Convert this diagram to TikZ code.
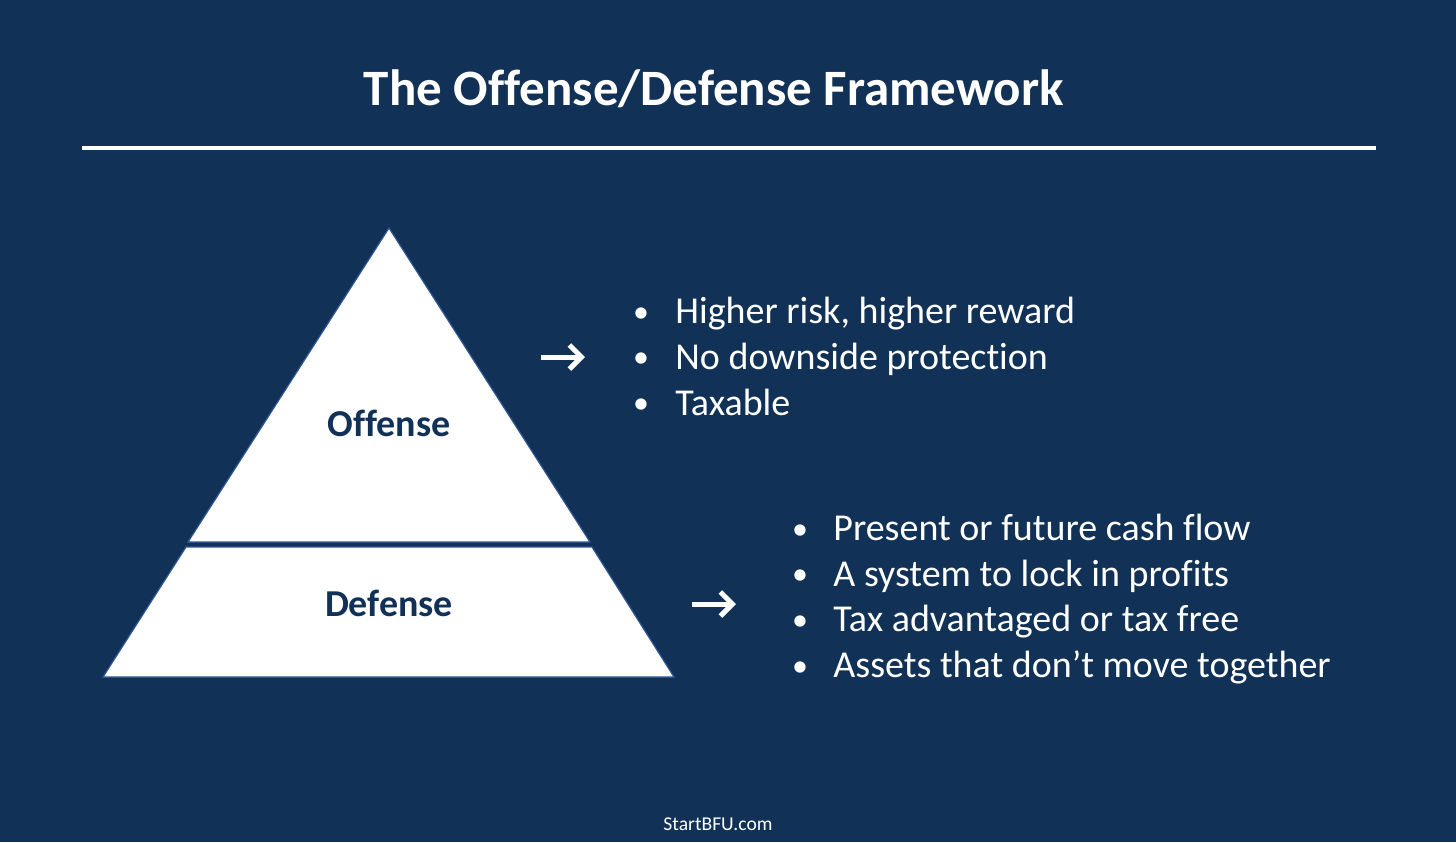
\documentclass[tikz,border=0pt]{standalone}
\usepackage{fontspec}
\setmainfont{Carlito}[Ligatures=NoCommon]
\usetikzlibrary{arrows.meta}
\definecolor{navy}{RGB}{17,50,86}
\definecolor{edgeblue}{RGB}{47,85,151}
\tikzset{
  tier/.style={fill=white, draw=edgeblue, line width=0.6pt},
  tierlabel/.style={anchor=base, text=navy, font=\bfseries\fontsize{19}{23}\selectfont},
  bullettext/.style={anchor=base west, inner sep=0pt, text=white, font=\fontsize{19}{23}\selectfont},
  bulletdot/.style={anchor=base, inner sep=0pt, text=white, font=\fontsize{16}{19}\selectfont},
  pointer/.style={->, white, line width=2.5pt}
}
\begin{document}
\begin{tikzpicture}[x=0.5pt, y=-0.5pt, >={Straight Barb[length=6pt,width=12pt]}]
    \fill[navy] (0,0) rectangle (1456,842);
    \useasboundingbox (0,0) rectangle (1456,842);

    % heading and rule
    \node[anchor=base, text=white, font=\bfseries\fontsize{25.5}{30}\selectfont]
        (title) at (714,105) {The Offense/Defense Framework};
    \draw[white, line width=2pt] (82,148) -- (1376,148);

    % pyramid
    \filldraw[tier] (389,228) -- (590,542) -- (188,542) -- cycle;
    \filldraw[tier] (186,547) -- (592,547) -- (674,677) -- (103,677) -- cycle;
    \node[tierlabel] (offense) at (389,436) {Offense};
    \node[tierlabel] (defense) at (389,616) {Defense};

    % arrows
    \coordinate (offtail) at (541,357);
    \coordinate (offhead) at (585,357);
    \coordinate (deftail) at (692,604);
    \coordinate (defhead) at (736,604);
    \draw[pointer] (offtail) -- (offhead);
    \draw[pointer] (deftail) -- (defhead);

    % offense points
    \foreach \txt [count=\i] in {{Higher risk, higher reward}, No downside protection, Taxable} {
        \node[bulletdot] (offdot\i) at (641,322+45.8*\i-45.8) {•};
        \node[bullettext] (offpt\i) at (675,323.5+45.8*\i-45.8) {\txt};
    }

    % defense points
    \foreach \txt [count=\i] in {Present or future cash flow, A system to lock in profits,
        Tax advantaged or tax free, Assets that don’t move together} {
        \node[bulletdot] (defdot\i) at (800,539+45.7*\i-45.7) {•};
        \node[bullettext] (defpt\i) at (833,540.5+45.7*\i-45.7) {\txt};
    }

    \node[anchor=base, text=white, font=\fontsize{9.8}{12}\selectfont]
        (site) at (718,830) {StartBFU.com};
\end{tikzpicture}
\end{document}
